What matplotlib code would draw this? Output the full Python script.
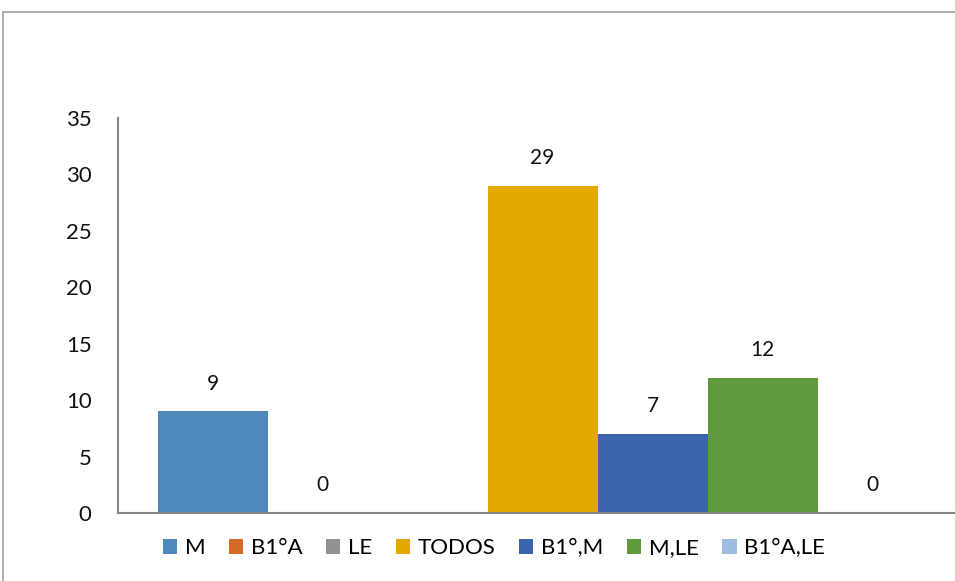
import matplotlib
matplotlib.use("Agg")
import matplotlib.pyplot as plt
from matplotlib.patches import Rectangle, Patch
import numpy as np

series = ["M", "B1°A", "LE", "TODOS", "B1°,M", "M,LE", "B1°A,LE"]
values = [9, 0, np.nan, 29, 7, 12, 0]
colors = ["#4F88BB", "#D56B27", "#929292", "#E2AA00", "#3B64AD", "#5F9A3C", "#9DBDE3"]
yticks = [0, 5, 10, 15, 20, 25, 30, 35]

plt.rcParams['font.family'] = ['Lato', 'DejaVu Sans']
W, H = 955, 581
fig = plt.figure(figsize=(W/100, H/100), dpi=100)

# outer chart border
fig.patches.append(Rectangle((3/W, 1 - 600/H), 1.2, (600-12)/H, transform=fig.transFigure,
                             fill=False, edgecolor="#A0A0A0", linewidth=1.2))

ax_l, ax_r, ax_t, ax_b = 118, 967, 118, 513
ax = fig.add_axes([ax_l/W, 1 - ax_b/H, (ax_r-ax_l)/W, (ax_b-ax_t)/H])
n = len(series)
bw = 1.0
x = np.arange(n) * bw
gap = (ax_r - ax_l) / 110.0 - n  # in bar units
ax.set_xlim(-bw/2 - gap/2, (n-1)*bw + bw/2 + gap/2)
ax.set_ylim(0, 35)
for i, (s, v, c) in enumerate(zip(series, values, colors)):
    if np.isnan(v):
        continue
    ax.bar(x[i], v, width=bw, color=c, linewidth=0)
    ax.annotate(f"{v:g}", (x[i], v), xytext=(0, 20), textcoords="offset points",
                ha="center", va="center", fontsize=15, color="#111111")

ax.set_yticks(yticks)
ax.set_xticks([])
ax.tick_params(axis="y", length=0, pad=19, labelsize=16, labelcolor="#111111")
for sp in ["top", "right"]:
    ax.spines[sp].set_visible(False)
for sp in ["left", "bottom"]:
    ax.spines[sp].set_color("#868686")
    ax.spines[sp].set_linewidth(1.5)

handles = [Patch(facecolor=c, edgecolor="none") for c in colors]
fig.legend(handles, series, loc="center", bbox_to_anchor=(494/W, 1 - 548/H), ncol=n,
           frameon=False, fontsize=16, handlelength=0.65, handleheight=0.65,
           handletextpad=0.35, columnspacing=1.05)

fig.savefig("out.png", dpi=100)
